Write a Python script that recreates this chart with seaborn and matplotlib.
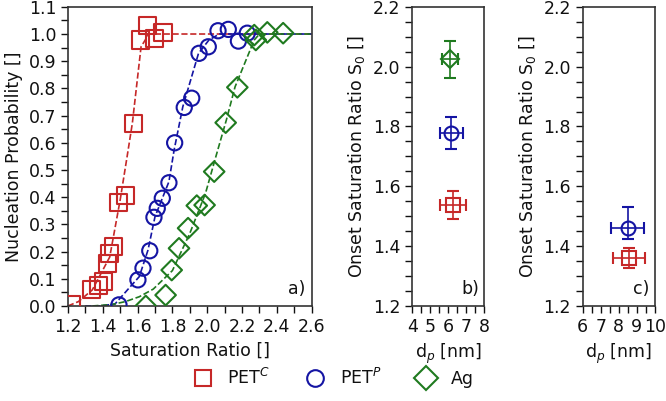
import numpy as np
import pandas as pd
import matplotlib
matplotlib.use('Agg')
import matplotlib.pyplot as plt
from matplotlib.lines import Line2D
from matplotlib.ticker import MultipleLocator
import seaborn as sns

# measured nucleation probabilities (panel a)
petc_s = [1.221, 1.336, 1.378, 1.407, 1.426, 1.436, 1.464, 1.493, 1.532, 1.574, 1.618, 1.656, 1.70, 1.746]
petc_p = [0.004, 0.059, 0.077, 0.089, 0.157, 0.194, 0.218, 0.38, 0.408, 0.672, 0.978, 1.033, 0.984, 1.006]
petp_s = [1.493, 1.602, 1.631, 1.67, 1.694, 1.713, 1.742, 1.78, 1.813, 1.868, 1.911, 1.953, 2.006, 2.062, 2.121, 2.179, 2.23]
petp_p = [0.004, 0.096, 0.139, 0.203, 0.326, 0.359, 0.396, 0.453, 0.60, 0.73, 0.764, 0.929, 0.953, 1.012, 1.017, 0.974, 1.003]
ag_s = [1.647, 1.761, 1.796, 1.838, 1.89, 1.94, 1.985, 2.04, 2.106, 2.173, 2.279, 2.27, 2.345, 2.436]
ag_p = [0.0, 0.04, 0.132, 0.212, 0.286, 0.369, 0.371, 0.494, 0.674, 0.804, 0.978, 0.996, 1.006, 1.003]

# fitted curves
petc_fit_s = [1.2, 1.26, 1.34, 1.44, 1.50, 1.54, 1.57, 1.62, 1.665, 2.6]
petc_fit_p = [0.0, 0.016, 0.059, 0.18, 0.39, 0.55, 0.672, 0.953, 1.0, 1.0]
petp_fit_s = [1.30, 1.38, 1.47, 1.55, 1.61, 1.66, 1.70, 1.78, 1.81, 1.86, 1.95, 2.01, 2.07, 2.6]
petp_fit_p = [0.0, 0.0, 0.007, 0.065, 0.108, 0.206, 0.328, 0.457, 0.574, 0.733, 0.929, 0.978, 1.0, 1.0]
ag_fit_s = [1.34, 1.45, 1.53, 1.61, 1.69, 1.80, 1.90, 1.99, 2.05, 2.11, 2.16, 2.27, 2.30, 2.6]
ag_fit_p = [0.0, 0.005, 0.016, 0.034, 0.062, 0.13, 0.267, 0.414, 0.55, 0.684, 0.806, 0.978, 1.0, 1.0]

# onset saturation ratios (panel b)
b_dp = [6.26, 6.17, 6.1]
b_dp_err = [0.74, 0.65, 0.42]
b_s0 = [1.537, 1.779, 2.024]
b_s0_err = [0.046, 0.053, 0.061]

# onset saturation ratios (panel c), PET^C and PET^P only
c_dp = [8.57, 8.49]
c_dp_err = [0.90, 0.93]
c_s0 = [1.361, 1.46]
c_s0_lo = [0.033, 0.035]
c_s0_hi = [0.033, 0.072]

names = ['PET$^C$', 'PET$^P$', 'Ag']
colors = ['#c62828', '#1414a3', '#1f7a1f']
markers = ['s', 'o', 'D']

sns.set_theme(style='ticks')
plt.rcParams['font.family'] = ['DejaVu Sans']
plt.rcParams['axes.edgecolor'] = '#333333'
plt.rcParams['text.color'] = '#111111'
plt.rcParams['axes.labelcolor'] = '#111111'
plt.rcParams['xtick.color'] = '#111111'
plt.rcParams['ytick.color'] = '#111111'
plt.rcParams['xtick.labelsize'] = 12.5
plt.rcParams['ytick.labelsize'] = 12.5
plt.rcParams['axes.labelsize'] = 12.5

fig = plt.figure(figsize=(6.66, 4.01), dpi=100)
ax_a = fig.add_axes([0.102, 0.237, 0.366, 0.746])
ax_b = fig.add_axes([0.619, 0.237, 0.108, 0.746])
ax_c = fig.add_axes([0.875, 0.237, 0.108, 0.746])

# panel a: fitted curves and data
fits = [(petc_fit_s, petc_fit_p), (petp_fit_s, petp_fit_p), (ag_fit_s, ag_fit_p)]
points = [(petc_s, petc_p), (petp_s, petp_p), (ag_s, ag_p)]
sizes = [150, 120, 110]
for (fs, fp), (ps, pp), col, mk, sz in zip(fits, points, colors, markers, sizes):
    sns.lineplot(x=fs, y=fp, ax=ax_a, color=col, linestyle='--', linewidth=1.2,
                 estimator=None, sort=False)
    sns.scatterplot(x=ps, y=pp, ax=ax_a, marker=mk, s=sz, facecolor='none',
                    edgecolor=col, linewidth=1.5, zorder=3)

ax_a.set_xlim(1.2, 2.6)
ax_a.set_ylim(0.0, 1.1)
ax_a.xaxis.set_major_locator(MultipleLocator(0.2))
ax_a.xaxis.set_minor_locator(MultipleLocator(0.1))
ax_a.yaxis.set_major_locator(MultipleLocator(0.1))
ax_a.yaxis.set_minor_locator(MultipleLocator(0.05))
ax_a.set_xlabel('Saturation Ratio []')
ax_a.set_ylabel('Nucleation Probability []')
ax_a.text(0.975, 0.025, 'a)', transform=ax_a.transAxes, ha='right', va='bottom', fontsize=12.5)

# panel b
for i in range(3):
    ax_b.errorbar(b_dp[i], b_s0[i], xerr=b_dp_err[i], yerr=b_s0_err[i], fmt=markers[i],
                  color=colors[i], mfc='none', mec=colors[i], ms=[10, 10, 9][i], mew=1.5,
                  elinewidth=1.2, capsize=4, capthick=1.2)
ax_b.set_xlim(4, 8)
ax_b.xaxis.set_major_locator(MultipleLocator(1))
ax_b.xaxis.set_minor_locator(MultipleLocator(0.5))
ax_b.text(0.93, 0.025, 'b)', transform=ax_b.transAxes, ha='right', va='bottom', fontsize=12.5)

# panel c
for i in range(2):
    ax_c.errorbar(c_dp[i], c_s0[i], xerr=c_dp_err[i], yerr=[[c_s0_lo[i]], [c_s0_hi[i]]],
                  fmt=markers[i], color=colors[i], mfc='none', mec=colors[i], ms=10, mew=1.5,
                  elinewidth=1.2, capsize=4, capthick=1.2)
ax_c.set_xlim(6, 10)
ax_c.xaxis.set_major_locator(MultipleLocator(1))
ax_c.xaxis.set_minor_locator(MultipleLocator(0.5))
ax_c.text(0.93, 0.025, 'c)', transform=ax_c.transAxes, ha='right', va='bottom', fontsize=12.5)

for ax in (ax_b, ax_c):
    ax.set_ylim(1.2, 2.2)
    ax.yaxis.set_major_locator(MultipleLocator(0.2))
    ax.yaxis.set_minor_locator(MultipleLocator(0.05))
    ax.set_xlabel('d$_p$ [nm]')
    ax.set_ylabel('Onset Saturation Ratio S$_0$ []')

for ax in (ax_a, ax_b, ax_c):
    ax.tick_params(which='major', length=5, width=1)
    ax.tick_params(which='minor', length=5, width=1)
    for sp in ax.spines.values():
        sp.set_linewidth(1.2)

handles = [Line2D([], [], linestyle='none', marker=m, ms=12, mfc='none', mec=c, mew=1.5)
           for m, c in zip(markers, colors)]
fig.legend(handles, names, loc='center', bbox_to_anchor=(0.495, 0.057), ncol=3,
           frameon=False, fontsize=12.5, columnspacing=1.6, handletextpad=0.4)

fig.savefig('out.png', dpi=100)
plt.close(fig)
